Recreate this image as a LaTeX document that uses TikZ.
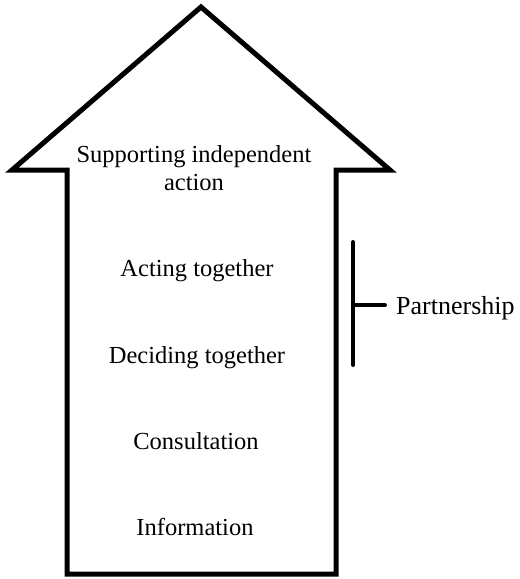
\documentclass[tikz,border=0pt]{standalone}
\usepackage{fontspec}
\setmainfont{Liberation Serif}
\begin{document}
\begin{tikzpicture}[x=1pt,y=-1pt,
  lbl/.style={anchor=base,font=\fontsize{24.5}{28}\selectfont,inner sep=0pt,align=center},
  arrowshape/.style={draw=black,line width=5pt,line join=miter,fill=white},
  brace/.style={draw=black,line width=4pt,line cap=round}]
\useasboundingbox (0,0) rectangle (520,579);
\draw[arrowshape] (201,7) -- (390,170) -- (336,170) -- (336,574) -- (67,574) -- (67,170) -- (12,170) -- cycle;
\node[lbl] (sup) at (194,162) {Supporting independent};
\node[lbl] (act) at (194,190) {action};
\node[lbl] (acting) at (197,276) {Acting together};
\node[lbl] (decid) at (197,363) {Deciding together};
\node[lbl] (cons) at (196,449) {Consultation};
\node[lbl] (info) at (195,535) {Information};
\coordinate (btop) at (353,242);
\coordinate (bbot) at (353,365);
\coordinate (bmid) at (353,305);
\coordinate (bend) at (385,305);
\draw[brace] (btop) -- (bbot);
\draw[brace] (bmid) -- (bend);
\node[lbl,anchor=base west,font=\fontsize{26}{30}\selectfont] (part) at (396,314) {Partnership};
\end{tikzpicture}
\end{document}
